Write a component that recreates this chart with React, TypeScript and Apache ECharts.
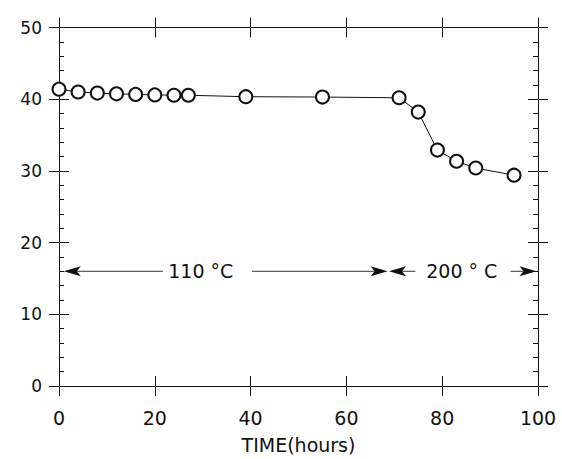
import React, { useEffect, useRef } from "react";
import * as echarts from "echarts";

const timeHours = [0, 4, 8, 12, 16, 20, 24, 27, 39, 55, 71, 75, 79, 83, 87, 95];
const values = [41.4, 41.0, 40.85, 40.75, 40.67, 40.6, 40.55, 40.55, 40.35, 40.3, 40.2, 38.2, 32.9, 31.35, 30.4, 29.4];

// annotation arrows: [from x, tip x, y]
const arrowSegments = [
  [21.7, 1.0, 16],
  [40.3, 68.6, 16],
  [74.4, 68.9, 16],
  [94.3, 99.7, 16],
];
const labelPositions = [
  [29.6, 16],
  [84.1, 16],
];
const labelTexts = ["110 °C", "200 ° C"];

const xName = "TIME(hours)";

export default function App() {
  const ref = useRef<HTMLDivElement>(null);
  useEffect(() => {
    if (!ref.current) return;
    const chart = echarts.init(ref.current, null, { renderer: "svg" });
    const ink = "#111";
    const font = "DejaVu Sans";
    const baseX = {
      type: "value",
      min: 0,
      max: 100,
      interval: 20,
      splitLine: { show: false },
      axisLine: { show: true, onZero: false, lineStyle: { color: ink, width: 1 } },
    };
    const baseY = {
      type: "value",
      min: 0,
      max: 50,
      interval: 10,
      splitLine: { show: false },
      axisLine: { show: true, onZero: false, lineStyle: { color: ink, width: 1 } },
    };
    const option: any = {
      animation: false,
      backgroundColor: "#fff",
      grid: { left: 59, right: 24, top: 27.5, bottom: 70, containLabel: false },
      xAxis: [
        {
          ...baseX,
          position: "bottom",
          axisTick: { show: true, inside: false, length: 10, lineStyle: { color: ink } },
          axisLabel: { show: true, margin: 22, color: ink, fontSize: 19, fontFamily: font },
          name: xName,
          nameLocation: "middle",
          nameGap: 49,
          nameTextStyle: { color: ink, fontSize: 19, fontFamily: font },
        },
        {
          ...baseX,
          position: "bottom",
          axisTick: { show: true, inside: true, length: 10, lineStyle: { color: ink } },
          axisLabel: { show: false },
        },
        {
          ...baseX,
          position: "top",
          axisTick: { show: true, inside: false, length: 10, lineStyle: { color: ink } },
          axisLabel: { show: false },
        },
        {
          ...baseX,
          position: "top",
          axisTick: { show: true, inside: true, length: 10, lineStyle: { color: ink } },
          axisLabel: { show: false },
        },
      ],
      yAxis: [
        {
          ...baseY,
          position: "left",
          axisTick: { show: true, inside: false, length: 10, lineStyle: { color: ink } },
          axisLabel: { show: true, margin: 17, color: ink, fontSize: 17, fontFamily: font },
        },
        {
          ...baseY,
          position: "left",
          axisTick: { show: true, inside: true, length: 10, lineStyle: { color: ink } },
          minorTick: { show: true, splitNumber: 5, length: 5, lineStyle: { color: ink } },
          axisLabel: { show: false },
        },
        {
          ...baseY,
          position: "right",
          axisTick: { show: true, inside: false, length: 10, lineStyle: { color: ink } },
          axisLabel: { show: false },
        },
        {
          ...baseY,
          position: "right",
          axisTick: { show: true, inside: true, length: 10, lineStyle: { color: ink } },
          minorTick: { show: true, splitNumber: 5, length: 5, lineStyle: { color: ink } },
          axisLabel: { show: false },
        },
      ],
      series: [
        {
          type: "line",
          xAxisIndex: 0,
          yAxisIndex: 0,
          data: timeHours.map((t, i) => [t, values[i]]),
          symbol: "emptyCircle",
          symbolSize: 13,
          showAllSymbol: true,
          lineStyle: { color: ink, width: 1 },
          itemStyle: { color: ink, borderWidth: 1.1 },
          z: 3,
        },
        {
          type: "custom",
          xAxisIndex: 0,
          yAxisIndex: 0,
          clip: false,
          silent: true,
          data: arrowSegments,
          renderItem: (params: any, api: any) => {
            const y = api.value(2);
            const p1 = api.coord([api.value(0), y]);
            const p2 = api.coord([api.value(1), y]);
            const dir = p2[0] > p1[0] ? 1 : -1;
            const L = 17;
            const W = 5;
            const baseXpx = p2[0] - dir * L;
            return {
              type: "group",
              children: [
                {
                  type: "line",
                  shape: { x1: p1[0], y1: p1[1], x2: baseXpx + dir * 4, y2: p2[1] },
                  style: { stroke: "#333", lineWidth: 1 },
                },
                {
                  type: "polygon",
                  shape: {
                    points: [
                      [p2[0], p2[1]],
                      [baseXpx, p2[1] - W],
                      [baseXpx + dir * 4, p2[1]],
                      [baseXpx, p2[1] + W],
                    ],
                  },
                  style: { fill: ink },
                },
              ],
            };
          },
          z: 4,
        },
        {
          type: "custom",
          xAxisIndex: 0,
          yAxisIndex: 0,
          clip: false,
          silent: true,
          data: labelPositions,
          renderItem: (params: any, api: any) => {
            const p = api.coord([api.value(0), api.value(1)]);
            return {
              type: "text",
              x: p[0],
              y: p[1],
              style: {
                text: labelTexts[params.dataIndex],
                fill: ink,
                fontSize: 19,
                fontFamily: font,
                align: "center",
                verticalAlign: "middle",
              },
            };
          },
          z: 4,
        },
      ],
    };
    chart.setOption(option);
    return () => chart.dispose();
  }, []);
  return (
    <div
      ref={ref}
      style={{ position: "fixed", left: 0, top: 0, width: 562, height: 459, background: "#fff" }}
    />
  );
}
